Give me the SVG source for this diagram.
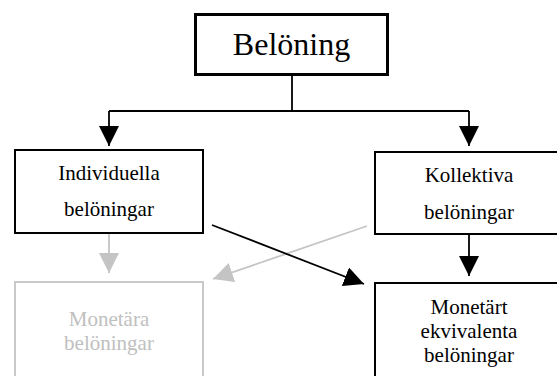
<svg xmlns="http://www.w3.org/2000/svg" width="557" height="376" viewBox="0 0 557 376">
  <style>
    .box { fill: #ffffff; stroke: #000000; stroke-width: 2; }
    .box-top { fill: #ffffff; stroke: #000000; stroke-width: 3; }
    .box-dim { fill: #ffffff; stroke: #c4c4c4; stroke-width: 1.8; }
    text { font-family: "Liberation Serif", "Times New Roman", serif; font-size: 21px; text-anchor: middle; fill: #000000; }
    .title { font-size: 32px; }
    .dim { fill: #c0c0c0; }
    .line { fill: none; stroke: #000000; stroke-width: 1.8; }
    .line-dim { fill: none; stroke: #c4c4c4; stroke-width: 1.8; }
  </style>
  <defs>
    <marker id="head" markerUnits="userSpaceOnUse" markerWidth="20" markerHeight="20" refX="20" refY="10" orient="auto">
      <path d="M0,0 L20,10 L0,20 Z" fill="#000000"/>
    </marker>
    <marker id="head-dim" markerUnits="userSpaceOnUse" markerWidth="20" markerHeight="20" refX="20" refY="10" orient="auto">
      <path d="M0,0 L20,10 L0,20 Z" fill="#c4c4c4"/>
    </marker>
  </defs>
  <rect width="557" height="376" fill="#ffffff"/>

  <g id="connectors">
    <!-- split from the root box to both categories -->
    <polyline class="line" points="292,75 292,111"/>
    <polyline class="line" points="109,111 469,111"/>
    <line class="line" x1="109" y1="111" x2="109" y2="146" marker-end="url(#head)"/>
    <line class="line" x1="469" y1="111" x2="469" y2="146" marker-end="url(#head)"/>
    <!-- lower level -->
    <line class="line-dim" x1="109" y1="234" x2="109" y2="273" marker-end="url(#head-dim)"/>
    <line class="line-dim" x1="367" y1="226" x2="213" y2="279" marker-end="url(#head-dim)"/>
    <line class="line" x1="212" y1="225" x2="364" y2="284" marker-end="url(#head)"/>
    <line class="line" x1="469" y1="235" x2="469" y2="276" marker-end="url(#head)"/>
  </g>

  <g id="node-beloning">
    <rect class="box-top" x="195.5" y="14.5" width="192" height="60"/>
    <text class="title" x="291.5" y="55">Belöning</text>
  </g>

  <g id="node-individuella">
    <rect class="box" x="15" y="150" width="188" height="83"/>
    <text x="109" y="180">Individuella</text>
    <text x="109" y="216">belöningar</text>
  </g>

  <g id="node-kollektiva">
    <rect class="box" x="375" y="152" width="190" height="82"/>
    <text x="469" y="182">Kollektiva</text>
    <text x="469" y="219">belöningar</text>
  </g>

  <g id="node-monetara">
    <rect class="box-dim" x="15" y="282" width="188" height="110"/>
    <text class="dim" x="109" y="326">Monetära</text>
    <text class="dim" x="109" y="350">belöningar</text>
  </g>

  <g id="node-monetart-ekvivalenta">
    <rect class="box" x="375" y="283" width="190" height="110"/>
    <text x="469" y="314">Monetärt</text>
    <text x="469" y="338">ekvivalenta</text>
    <text x="469" y="362">belöningar</text>
  </g>
</svg>
